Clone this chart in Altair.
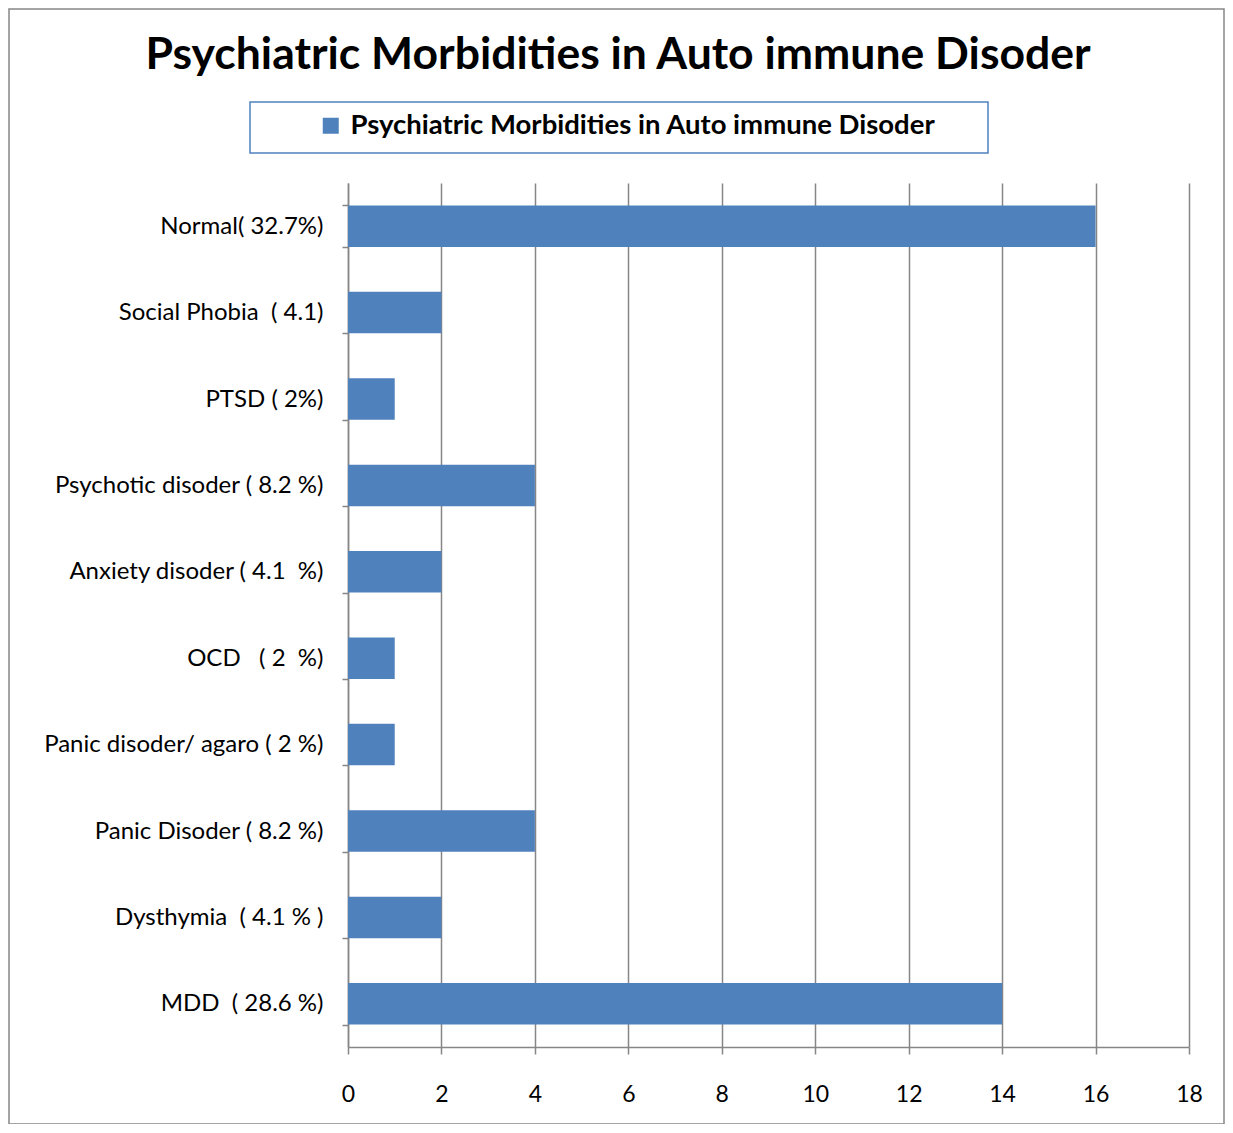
import altair as alt
import pandas as pd

NB = "\u00a0"
categories = [
    "Normal( 32.7%)",
    "Social Phobia" + NB + " ( 4.1)",
    "PTSD ( 2%)",
    "Psychotic disoder ( 8.2 %)",
    "Anxiety disoder ( 4.1" + NB + "  %)",
    "OCD" + NB + NB + " ( 2" + NB + " %)",
    "Panic disoder/ agaro ( 2 %)",
    "Panic Disoder ( 8.2 %)",
    "Dysthymia" + NB + " ( 4.1 % )",
    "MDD" + NB + " ( 28.6 %)",
]
values = [16, 2, 1, 4, 2, 1, 1, 4, 2, 14]
series_name = "Psychiatric Morbidities in Auto immune Disoder"
title_text = "Psychiatric Morbidities in Auto immune Disoder"
x_ticks = [0, 2, 4, 6, 8, 10, 12, 14, 16, 18]

df = pd.DataFrame({"category": categories, "value": values, "series": series_name})

W, H = 841, 864
FONT = "Lato"
GRAY = "#868686"
BLUE = "#4F81BD"

bars = alt.Chart(df).mark_bar(color=BLUE).encode(
    y=alt.Y(
        "category:N",
        sort=categories,
        scale=alt.Scale(paddingInner=0.52, paddingOuter=0.26),
        axis=alt.Axis(
            title=None,
            tickBand="extent",
            tickSize=6,
            tickColor=GRAY,
            tickWidth=1.5,
            domainColor=GRAY,
            domainWidth=1.5,
            labelFont=FONT,
            labelFontSize=24,
            labelColor="black",
            labelPadding=19,
            labelLimit=400,
            grid=False,
        ),
    ),
    x=alt.X(
        "value:Q",
        scale=alt.Scale(domain=[0, 18], nice=False),
        axis=alt.Axis(
            title=None,
            values=x_ticks,
            tickSize=7,
            tickColor=GRAY,
            tickWidth=1.5,
            domainColor=GRAY,
            domainWidth=1.5,
            grid=True,
            gridColor=GRAY,
            gridWidth=1.5,
            labelFont=FONT,
            labelFontSize=23,
            labelColor="black",
            labelPadding=29,
            labelFlush=False,
        ),
    ),
    color=alt.Color(
        "series:N",
        scale=alt.Scale(domain=[series_name], range=[BLUE]),
        legend=alt.Legend(
            orient="none",
            legendX=-31,
            legendY=-71,
            title=None,
            symbolType="square",
            symbolSize=256,
            symbolStrokeWidth=0,
            labelFont=FONT,
            labelFontSize=27.5,
            labelFontWeight="bold",
            labelColor="black",
            labelLimit=900,
            labelOffset=6,
            padding=0,
        ),
    ),
)

one = alt.Data(values=[{"k": 1}])

legend_box = alt.Chart(one).mark_rect(fill=None, stroke=BLUE, strokeWidth=1.5).encode(
    x=alt.value(250 - 348), x2=alt.value(988 - 348),
    y=alt.value(102 - 183), y2=alt.value(153 - 183),
)

outer_frame = alt.Chart(one).mark_rect(fill=None, stroke=GRAY, strokeWidth=1.5).encode(
    x=alt.value(9 - 348), x2=alt.value(1224 - 348),
    y=alt.value(9 - 183), y2=alt.value(1124 - 183),
)

title = alt.Chart(one).mark_text(
    text=title_text, font=FONT, fontSize=44.5, fontWeight="bold", color="black",
    align="center", baseline="middle",
).encode(x=alt.value(618 - 348), y=alt.value(56 - 183))

chart = alt.layer(outer_frame, legend_box, title, bars).properties(
    width=W,
    height=H,
    autosize=alt.AutoSizeParams(type="none"),
    padding={"left": 340, "top": 175, "right": 36, "bottom": 77},
    background="white",
).configure_view(stroke=None)

chart.save("out.html", embed_options={"renderer": "svg", "actions": False})
